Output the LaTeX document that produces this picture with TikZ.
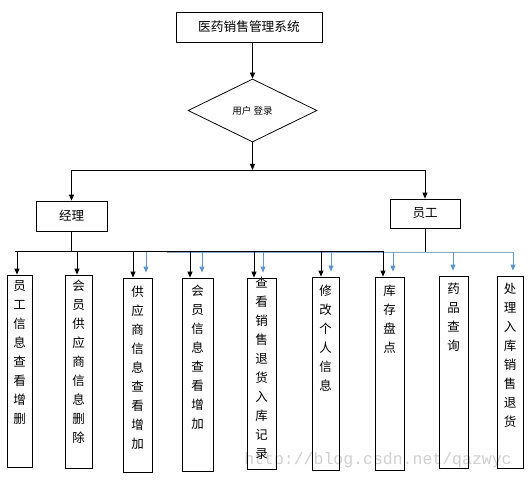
\documentclass[tikz,border=0pt]{standalone}
\usepackage{fontspec}
\setmainfont{Noto Sans CJK SC}
\setmonofont{Liberation Mono}
\usetikzlibrary{positioning,shapes.geometric,arrows.meta}

\definecolor{linkblue}{RGB}{95,150,205}
\definecolor{busblue}{RGB}{140,168,192}
\definecolor{markgray}{RGB}{208,208,208}

\tikzset{
    box/.style={draw,line width=0.8pt,inner sep=0pt},
    stack/.style={inner sep=0pt,align=center,font=\fontsize{12.5}{19}\selectfont},
    arr/.style={line width=0.8pt,-{Triangle[length=6pt,width=5pt]}},
    barr/.style={linkblue,line width=0.8pt,-{Triangle[length=6pt,width=5pt]},shorten >=5pt},
}

\begin{document}
\begin{tikzpicture}[x=1pt,y=-1pt]
    \fill[white] (0,0) rectangle (532,481);
    \useasboundingbox (0,0) rectangle (532,481);

    % watermark
    \node[markgray,font=\ttfamily\fontsize{16.5}{16.5}\selectfont] (wm) at (378,460) {http://blog.csdn.net/qazwyc};

    % top part
    \node[box,minimum width=146,minimum height=30,font=\fontsize{12.7}{14}\selectfont] (sys) at (249,27) {医药销售管理系统};
    \node[box,diamond,minimum width=129,minimum height=63,font=\fontsize{9.5}{11}\selectfont] (login) at (252.5,110.5) {用户 登录};
    \draw[arr] (sys.south -| login.north) -- (login.north);
    \coordinate (split) at (252.5,170);
    \draw[arr] (login.south) -- (split);

    \node[box,minimum width=71,minimum height=30,font=\fontsize{12.5}{14}\selectfont] (mgr) at (71.5,216) {经理};
    \node[box,minimum width=70,minimum height=29,font=\fontsize{12.5}{14}\selectfont] (emp) at (425,213.5) {员工};
    \draw[line width=0.8pt] (mgr.north |- split) -- (emp.north |- split);
    \draw[arr] (mgr.north |- split) -- (mgr.north);
    \draw[arr] (emp.north |- split) -- (emp.north);

    % bottom boxes
    \node[box,minimum width=25,minimum height=192] (b1) at (19.5,371) {};
    \node[box,minimum width=27,minimum height=193] (b2) at (78.5,371.5) {};
    \node[box,minimum width=29,minimum height=194] (b3) at (137.5,375) {};
    \node[box,minimum width=31,minimum height=193] (b4) at (197.5,374.5) {};
    \node[box,minimum width=29,minimum height=191] (b5) at (261.5,373.5) {};
    \node[box,minimum width=27,minimum height=193] (b6) at (325.5,373.5) {};
    \node[box,minimum width=29,minimum height=193] (b7) at (389.5,373.5) {};
    \node[box,minimum width=29,minimum height=192] (b8) at (453.5,372) {};
    \node[box,minimum width=26,minimum height=192] (b9) at (510,372) {};

    \node[stack,below=6pt of b1.north] (t1) {员\\工\\信\\息\\查\\看\\增\\删};
    \node[stack,below=5pt of b2.north] (t2) {会\\员\\供\\应\\商\\信\\息\\删\\除};
    \node[stack,below=8pt of b3.north] (t3) {供\\应\\商\\信\\息\\查\\看\\增\\加};
    \node[stack,below=7pt of b4.north] (t4) {会\\员\\信\\息\\查\\看\\增\\加};
    \node[stack,below=-1pt of b5.north] (t5) {查\\看\\销\\售\\退\\货\\入\\库\\记\\录};
    \node[stack,below=8pt of b6.north] (t6) {修\\改\\个\\人\\信\\息};
    \node[stack,below=8pt of b7.north] (t7) {库\\存\\盘\\点};
    \node[stack,below=7pt of b8.north] (t8) {药\\品\\查\\询};
    \node[stack,below=7pt of b9.north] (t9) {处\\理\\入\\库\\销\\售\\退\\货};

    % manager and staff buses
    \coordinate (mbusL) at (15,251);
    \coordinate (mbusR) at (384,251);
    \coordinate (ebusL) at (167,252);
    \coordinate (ebusR) at (514,252);
    \draw[busblue,line width=0.8pt] (ebusL) -- (ebusR);
    \draw[line width=0.8pt] (mbusL) -- (mbusR);
    \draw[line width=0.8pt] (mgr.south) -- (mgr.south |- mbusL);
    \draw[line width=0.8pt] (emp.south) -- (emp.south |- ebusL);

    \foreach \n/\xa in {1/17,2/77,3/133,4/190,5/254,6/321,7/383}
        \draw[arr] (\xa,251) -- (\xa,0 |- b\n.north);
    \foreach \n/\xb in {3/146,4/202,5/263,6/331,7/393,8/453,9/513}
        \draw[barr] (\xb,252) -- (\xb,0 |- b\n.north);
\end{tikzpicture}
\end{document}
